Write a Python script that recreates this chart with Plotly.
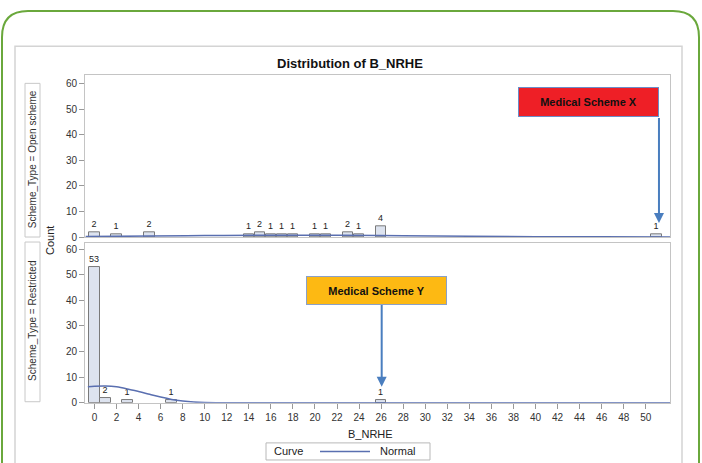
import plotly.graph_objects as go

W, H = 702, 463          # reference picture size (layout coordinates)
HF = 470                 # rendered figure height (page is squeezed to 463)
SY = HF / H              # vertical pixel factor

# ---- data ----
open_x = [0, 2, 5, 14, 15, 16, 17, 18, 20, 21, 23, 24, 26, 51]
open_counts = [2, 1, 2, 1, 2, 1, 1, 1, 1, 1, 2, 1, 4, 1]

restr_x = [0, 1, 3, 7, 26]
restr_counts = [53, 2, 1, 1, 1]

open_curve_x = [-0.8, 5, 10, 15, 18, 22, 28, 34, 40, 46, 52.2]
open_curve_y = [0.2, 0.35, 0.55, 0.68, 0.72, 0.66, 0.5, 0.3, 0.15, 0.06, 0.02]

restr_curve_x = [-0.6, 0, 1, 2, 3, 4, 5, 6, 7, 8, 9, 10, 12, 16, 30, 52.2]
restr_curve_y = [6.2, 6.4, 6.5, 6.2, 5.4, 4.4, 3.3, 2.2, 1.3, 0.7, 0.3, 0.1, 0.02, 0, 0, 0]

x_ticks = list(range(0, 51, 2))
y_ticks = [0, 10, 20, 30, 40, 50, 60]

panel_labels = ["Scheme_Type = Open scheme", "Scheme_Type = Restricted"]
title_text = "Distribution of B_NRHE"
x_title = "B_NRHE"
y_title = "Count"
legend_title = "Curve"
legend_item = "Normal"

FONT = "Liberation Sans, Arial, sans-serif"


def px(x):
    return x / W


def py(y):
    return 1 - y / H


BAR_FILL = "#dde3ef"
BAR_LINE = "#7a7a7a"
CURVE = "#5a6fb0"

fig = go.Figure()

fig.add_trace(go.Bar(
    x=open_x, y=open_counts, width=0.96, xaxis="x2", yaxis="y2",
    marker=dict(color=BAR_FILL, line=dict(color=BAR_LINE, width=1)),
    text=open_counts, textposition="outside", cliponaxis=False,
    textfont=dict(size=9, color="#222", family=FONT), showlegend=False,
))
fig.add_trace(go.Bar(
    x=restr_x, y=restr_counts, width=0.96, xaxis="x", yaxis="y",
    marker=dict(color=BAR_FILL, line=dict(color=BAR_LINE, width=1)),
    text=restr_counts, textposition="outside", cliponaxis=False,
    textfont=dict(size=9, color="#222", family=FONT), showlegend=False,
))
fig.add_trace(go.Scatter(
    x=open_curve_x, y=open_curve_y, mode="lines", xaxis="x2", yaxis="y2",
    line=dict(color=CURVE, width=1.5, shape="spline"), showlegend=False,
))
fig.add_trace(go.Scatter(
    x=restr_curve_x, y=restr_curve_y, mode="lines", xaxis="x", yaxis="y",
    line=dict(color=CURVE, width=1.5, shape="spline"), name=legend_item,
    showlegend=False,
))

x_left, x_right = 85, 670
top_t, top_b = 75, 236
bot_t, bot_b = 242, 401

axis_common = dict(
    showline=True, linecolor="#c4c4c4", linewidth=1, mirror=True,
    showgrid=False, zeroline=False,
)

fig.update_layout(
    width=W, height=HF,
    margin=dict(l=0, r=0, t=0, b=0),
    paper_bgcolor="white", plot_bgcolor="white",
    font=dict(family=FONT, color="#333"),
    bargap=0, showlegend=False,
    xaxis=dict(
        domain=[px(x_left), px(x_right)], range=[-0.86, 52.2], anchor="y",
        tickmode="array", tickvals=x_ticks, ticktext=[str(v) for v in x_ticks],
        ticks="outside", ticklen=5, tickcolor="#999",
        tickfont=dict(size=10, color="#333"), **axis_common,
    ),
    xaxis2=dict(
        domain=[px(x_left), px(x_right)], range=[-0.86, 52.2], anchor="y2",
        matches="x", showticklabels=False, ticks="", **axis_common,
    ),
    yaxis=dict(
        domain=[py(bot_b), py(bot_t)], range=[0, 62.4], anchor="x",
        tickmode="array", tickvals=y_ticks,
        ticks="outside", ticklen=5, tickcolor="#999",
        tickfont=dict(size=10, color="#333"), **axis_common,
    ),
    yaxis2=dict(
        domain=[py(top_b), py(top_t)], range=[0, 63.2], anchor="x2",
        tickmode="array", tickvals=y_ticks,
        ticks="outside", ticklen=5, tickcolor="#999",
        tickfont=dict(size=10, color="#333"), **axis_common,
    ),
)

shapes = []
# green rounded outer frame (open at the bottom edge of the picture)
r = 26
x0, x1, y0 = 2, 699, 11
path = (f"M {px(x0)},0 L {px(x0)},{py(y0 + r)} "
        f"Q {px(x0)},{py(y0)} {px(x0 + r)},{py(y0)} "
        f"L {px(x1 - r)},{py(y0)} Q {px(x1)},{py(y0)} {px(x1)},{py(y0 + r)} "
        f"L {px(x1)},0")
shapes.append(dict(type="path", xref="paper", yref="paper", path=path,
                   line=dict(color="#6aa83c", width=2)))
# gray inner box (open at the bottom)
gpath = (f"M {px(15)},0 L {px(15)},{py(46)} L {px(682)},{py(46)} L {px(682)},0")
shapes.append(dict(type="path", xref="paper", yref="paper", path=gpath,
                   line=dict(color="#d4d4d4", width=1.5)))
# strip label boxes
for (t, b) in [(83, 236), (241, 400)]:
    shapes.append(dict(type="rect", xref="paper", yref="paper",
                       x0=px(25), x1=px(40), y0=py(b), y1=py(t),
                       line=dict(color="#c8c8c8", width=1), fillcolor="white"))
# legend box and sample line
shapes.append(dict(type="rect", xref="paper", yref="paper",
                   x0=px(266), x1=px(430), y0=py(458), y1=py(441),
                   line=dict(color="#b8b8b8", width=1), fillcolor="white"))
shapes.append(dict(type="line", xref="paper", yref="paper",
                   x0=px(320), x1=px(370), y0=py(449.5), y1=py(449.5),
                   line=dict(color=CURVE, width=1.5)))
fig.update_layout(shapes=shapes)

C = dict(xref="paper", yref="paper", showarrow=False,
         xanchor="center", yanchor="middle")

ann = []
ann.append(dict(text=f"<b>{title_text}</b>", x=px(350), y=py(63),
                font=dict(size=13, color="#111"), **C))
ann.append(dict(text=y_title, x=px(50), y=py(240), textangle=-90,
                font=dict(size=11, color="#222"), **C))
ann.append(dict(text=x_title, x=px(370), y=py(432),
                font=dict(size=11, color="#222"), **C))
ann.append(dict(text=panel_labels[0], x=px(32.5), y=py(159), textangle=-90,
                font=dict(size=10, color="#333"), **C))
ann.append(dict(text=panel_labels[1], x=px(32.5), y=py(320), textangle=-90,
                font=dict(size=10, color="#333"), **C))
ann.append(dict(text=legend_title, x=px(272), y=py(449.5), xref="paper",
                yref="paper", showarrow=False, xanchor="left", yanchor="middle",
                font=dict(size=11, color="#222")))
ann.append(dict(text=legend_item, x=px(378), y=py(449.5), xref="paper",
                yref="paper", showarrow=False, xanchor="left", yanchor="middle",
                font=dict(size=11, color="#222")))

# callout boxes
ann.append(dict(text="<b>Medical Scheme X</b>", x=px(588.5), y=py(102),
                width=139, height=round(28 * SY), bgcolor="#ee1f26",
                bordercolor="#6b8cc7", borderwidth=1, borderpad=0,
                font=dict(size=11, color="#111"), **C))
ann.append(dict(text="<b>Medical Scheme Y</b>", x=px(376.5), y=py(289),
                width=139, height=round(27 * SY), bgcolor="#fdb913",
                bordercolor="#8aa0c8", borderwidth=1, borderpad=0,
                font=dict(size=11, color="#111"), **C))
# arrows (tips stop just above the bar labels)
tip_x_top, tip_y_top = 51.2, 222
tip_x_bot, tip_y_bot = 26.05, 385
ann.append(dict(text="", x=tip_x_top, y=(236 - tip_y_top) / 2.55, xref="x2", yref="y2",
                showarrow=True, ax=0, ay=-(tip_y_top - 117) * SY, axref="pixel",
                arrowhead=2, arrowsize=1, arrowwidth=2, arrowcolor="#4a7ebf"))
ann.append(dict(text="", x=tip_x_bot, y=(401 - tip_y_bot) / 2.55, xref="x", yref="y",
                showarrow=True, ax=0, ay=-(tip_y_bot - 303) * SY, axref="pixel",
                arrowhead=2, arrowsize=1, arrowwidth=2, arrowcolor="#4a7ebf"))
fig.update_layout(annotations=ann)

post = (
    "document.documentElement.style.margin='0';"
    "document.documentElement.style.padding='0';"
    "document.documentElement.style.overflow='hidden';"
    "document.body.style.margin='0';"
    "document.body.style.padding='0';"
    "document.body.style.overflow='hidden';"
    "var gd=document.getElementsByClassName('plotly-graph-div')[0];"
    "gd.style.display='block';"
)

fig.write_html("out.html", config={"displayModeBar": False}, post_script=post)
